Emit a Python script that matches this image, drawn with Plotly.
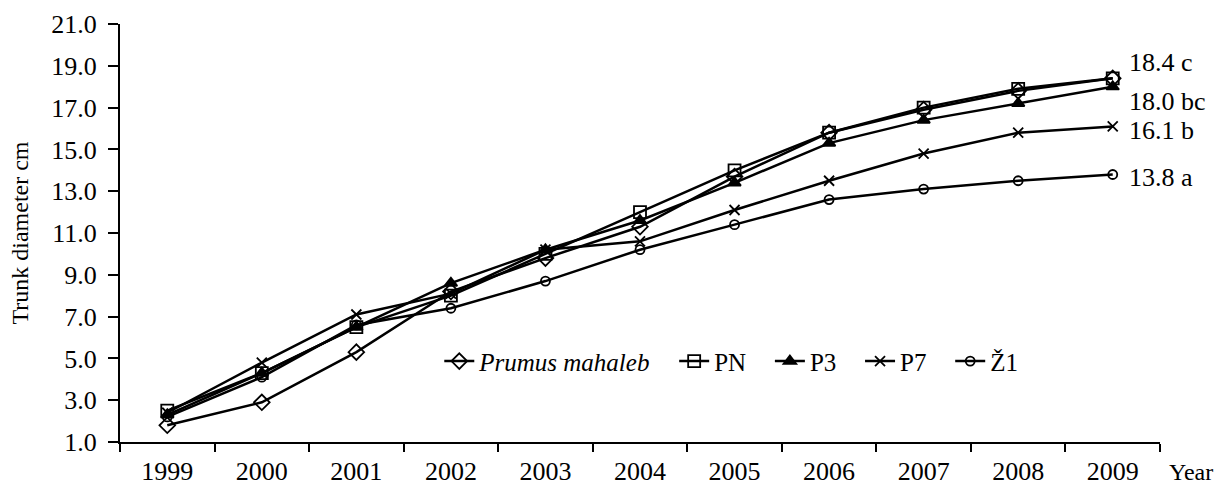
import plotly.graph_objects as go

years = ["1999", "2000", "2001", "2002", "2003", "2004", "2005", "2006", "2007", "2008", "2009"]
prunus = [1.8, 2.9, 5.3, 8.2, 9.8, 11.3, 13.7, 15.8, 16.9, 17.8, 18.4]
pn = [2.5, 4.3, 6.5, 8.0, 10.0, 12.0, 14.0, 15.8, 17.0, 17.9, 18.4]
p3 = [2.3, 4.3, 6.5, 8.6, 10.2, 11.6, 13.4, 15.3, 16.4, 17.2, 18.0]
p7 = [2.4, 4.8, 7.1, 8.1, 10.2, 10.6, 12.1, 13.5, 14.8, 15.8, 16.1]
z1 = [2.2, 4.1, 6.6, 7.4, 8.7, 10.2, 11.4, 12.6, 13.1, 13.5, 13.8]

end_labels = ["18.4 c", "18.0 bc", "16.1 b", "13.8 a"]
end_values = [18.4, 18.0, 16.1, 13.8]
end_shifts = [16, -15, -4, -3]

FONT = "Liberation Serif"
PAD = "&nbsp;&nbsp;&nbsp;"

series = [
    ("<i>Prumus mahaleb</i>" + PAD, prunus, "diamond-open", 12),
    ("PN" + PAD, pn, "square-open", 12),
    ("P3" + PAD, p3, "triangle-up", 11),
    ("P7" + PAD, p7, "x-thin-open", 10),
    ("Ž1", z1, "circle-open", 9),
]

fig = go.Figure()
for name, vals, sym, size in series:
    fig.add_trace(go.Scatter(
        x=years, y=vals, name=name, mode="lines+markers",
        line=dict(color="black", width=2.5),
        marker=dict(symbol=sym, size=size, color="black",
                    line=dict(color="black", width=1.8)),
    ))

last_idx = len(years) - 1
for txt, v, s in zip(end_labels, end_values, end_shifts):
    fig.add_annotation(x=last_idx, y=v, text=txt, showarrow=False,
                       xanchor="left", xshift=14, yshift=s,
                       font=dict(family=FONT, size=26, color="black"))

fig.add_annotation(xref="paper", yref="paper", x=1, y=0, text="Year",
                   showarrow=False, xanchor="right", yanchor="top",
                   xshift=54, yshift=-16, borderpad=0,
                   font=dict(family=FONT, size=24, color="black"))

fig.update_layout(
    width=1219, height=486,
    margin=dict(l=120, r=59, t=24, b=44),
    paper_bgcolor="white", plot_bgcolor="white",
    font=dict(family=FONT, size=26, color="black"),
    showlegend=True,
    legend=dict(orientation="h", x=0.307, y=0.193, xanchor="left", yanchor="middle",
                font=dict(family=FONT, size=25, color="black"),
                itemwidth=30, bgcolor="rgba(255,255,255,0)", tracegroupgap=0),
    xaxis=dict(type="category", range=[-0.5, 10.5], tickson="boundaries",
               ticks="outside", ticklen=8, tickwidth=2, tickcolor="black",
               showline=True, linecolor="black", linewidth=2,
               showgrid=False, zeroline=False, ticklabelstandoff=5,
               automargin=False, tickfont=dict(family=FONT, size=26)),
    yaxis=dict(range=[1, 21], tick0=1, dtick=2, tickformat=".1f",
               ticks="outside", ticklen=10, tickwidth=2, tickcolor="black",
               showline=True, linecolor="black", linewidth=2,
               showgrid=False, zeroline=False, ticklabelstandoff=6,
               automargin=False, tickfont=dict(family=FONT, size=26),
               title=dict(text="Trunk diameter cm", standoff=16,
                          font=dict(family=FONT, size=24))),
)

fig.write_html("out.html",
               config={"displayModeBar": False},
               post_script="document.body.style.margin='0';document.body.style.padding='0';")
